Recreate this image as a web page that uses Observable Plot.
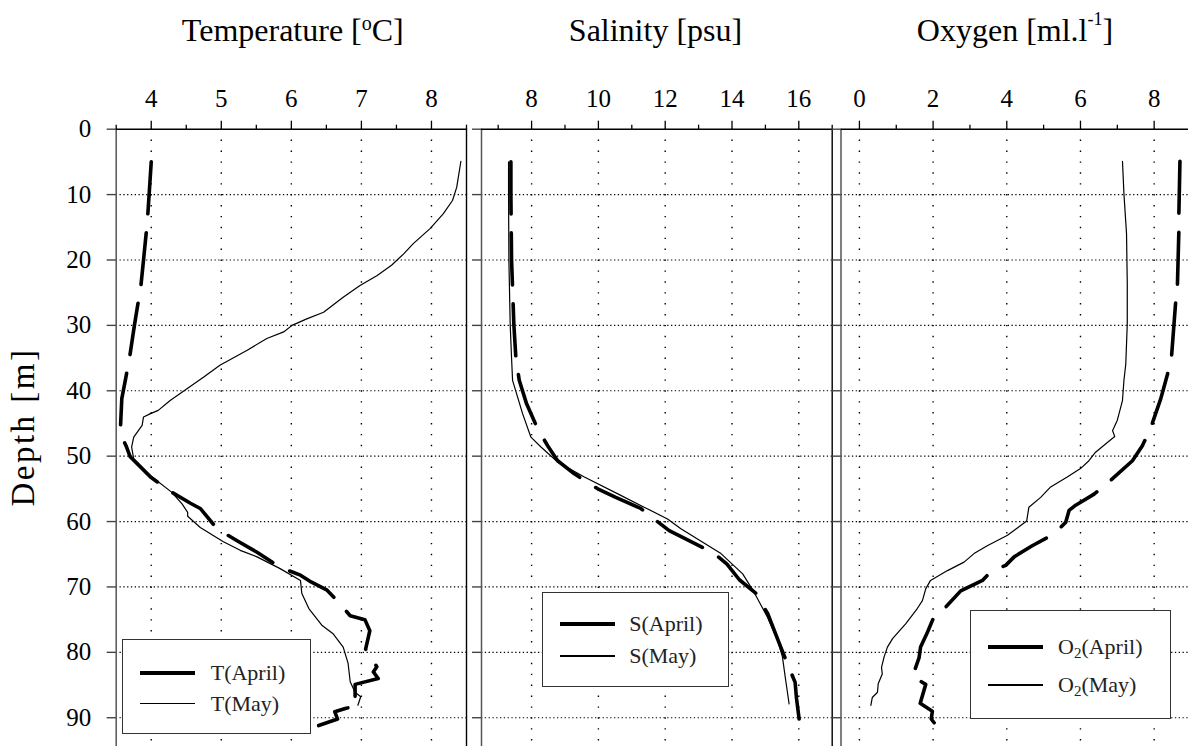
<!DOCTYPE html>
<html>
<head>
<meta charset="utf-8">
<script src="https://cdn.jsdelivr.net/npm/d3@7"></script>
<script src="https://cdn.jsdelivr.net/npm/@observablehq/plot@0.6"></script>
<style>
  html, body { margin: 0; padding: 0; background: white; }
  #wrap { position: relative; width: 1188px; height: 746px; overflow: hidden; background: white;
          font-family: "Liberation Serif", "Times New Roman", "DejaVu Serif", serif; color: black; }
  .panel { position: absolute; top: 0; }
  .title { position: absolute; top: 14px; font-size: 32px; line-height: 32px; text-align: center; white-space: nowrap;
           font-family: "Liberation Serif", "Times New Roman", serif; }
  .legend { position: absolute; border: 1.3px solid #333; background: white; box-sizing: border-box; }
  .legend .ln { position: absolute; background: black; }
  .legend .tx { position: absolute; font-size: 22px; line-height: 22px; white-space: nowrap; color: #222;
                font-family: "Liberation Serif", "Times New Roman", serif; }
  #ylab { position: absolute; left: 23px; top: 426.5px; width: 300px; font-size: 33px; line-height: 33px;
          letter-spacing: 2.5px; text-align: center; transform: translate(-50%, -50%) rotate(-90deg); white-space: nowrap;
          font-family: "Liberation Serif", "Times New Roman", serif; }
</style>
</head>
<body>
<div id="wrap"></div>
<script>
// ---------- tick labels / axis values ----------
const depthTicks = [0, 10, 20, 30, 40, 50, 60, 70, 80, 90];
const tempTicks = [4, 5, 6, 7, 8];
const tempMinor = [3.5, 4.5, 5.5, 6.5, 7.5, 8.5];
const salTicks = [8, 10, 12, 14, 16];
const salMinor = [7, 9, 11, 13, 15, 17];
const oxyTicks = [0, 2, 4, 6, 8];
const oxyMinor = [1, 3, 5, 7, 9];

// ---------- Temperature ----------
const tAprilDepth = [5.0, 10, 13.2, 15.7, 20, 24.2, 26.7, 30, 35, 38.4, 41.2, 45.8, 46.8, 48.4, 50.1, 53.2, 55.5, 57.2, 58.0, 61.1, 63.1, 64.7, 67.0, 68.2, 69.1, 70.5, 72.3, 74.4, 75.0, 76.7, 79.5, 82.2, 83.0, 84.0, 84.9, 87.2, 88.1, 88.6, 89.1, 90.2, 91.2];
const tAprilValue = [4.00, 3.97, 3.95, 3.93, 3.89, 3.85, 3.81, 3.76, 3.69, 3.63, 3.58, 3.56, 3.57, 3.64, 3.70, 3.99, 4.29, 4.56, 4.70, 4.94, 5.25, 5.51, 5.84, 6.13, 6.26, 6.51, 6.67, 6.84, 7.05, 7.12, 7.06, 7.22, 7.17, 7.24, 6.91, 6.91, 6.94, 6.77, 6.62, 6.66, 6.39];
const tMayDepth = [4.9, 8.9, 10.9, 12.9, 15.2, 17.5, 19.1, 20.8, 22.4, 23.9, 25.7, 28.0, 29.0, 30.0, 31.0, 32.0, 33.8, 36.1, 37.9, 39.7, 41.5, 43.0, 43.5, 44.0, 45.3, 47.1, 48.6, 50.4, 53.0, 55.5, 57.3, 58.6, 59.2, 60.9, 63.1, 64.4, 65.4, 67.2, 69.0, 71.0, 73.3, 75.9, 77.2, 79.2, 81.7, 84.5, 86.1, 86.8, 88.1];
const tMayValue = [8.42, 8.36, 8.30, 8.17, 7.98, 7.74, 7.60, 7.43, 7.22, 6.98, 6.74, 6.46, 6.22, 6.01, 5.89, 5.65, 5.37, 4.98, 4.75, 4.51, 4.27, 4.10, 3.99, 3.89, 3.87, 3.75, 3.72, 3.75, 3.99, 4.29, 4.44, 4.52, 4.52, 4.70, 5.03, 5.27, 5.51, 5.84, 6.13, 6.15, 6.25, 6.44, 6.60, 6.74, 6.81, 6.84, 6.91, 6.99, 6.95];

// ---------- Salinity ----------
const sAprilDepth = [5, 10, 20, 30, 35, 38.4, 42, 45.8, 48.4, 50.7, 52.7, 55.0, 56.3, 58.0, 61.4, 62.8, 64.9, 66.5, 68.9, 71.0, 74.1, 79.2, 82.0, 84.6, 87.0, 90.2];
const sAprilValue = [7.38, 7.38, 7.40, 7.47, 7.53, 7.63, 7.85, 8.18, 8.48, 8.78, 9.28, 9.98, 10.52, 11.27, 12.12, 12.67, 13.47, 13.85, 14.22, 14.72, 15.07, 15.46, 15.68, 15.89, 15.93, 16.01];
const sMayDepth = [5, 10, 20, 30, 35, 38.4, 43.5, 47.1, 48.6, 50.9, 53.2, 56.0, 57.8, 59.6, 61.1, 64.9, 68.0, 70.8, 74.5, 78.2, 80.7, 84, 87.9];
const sMayValue = [7.31, 7.31, 7.32, 7.36, 7.40, 7.43, 7.73, 7.98, 8.28, 8.78, 9.58, 10.67, 11.37, 12.07, 12.47, 13.67, 14.32, 14.66, 15.05, 15.37, 15.51, 15.60, 15.71];

// ---------- Oxygen ----------
const oAprilDepth = [4.9, 13.2, 15.7, 24.1, 26.7, 34.9, 37.5, 41.2, 45.8, 48.4, 50.7, 53.7, 55.8, 57.5, 58.3, 60.1, 61.9, 63.7, 65.4, 66.7, 67.7, 69.0, 70.6, 73.1, 74.6, 76.9, 79.2, 80.8, 83.7, 84.9, 87.8, 89.0, 90.2, 92.2, 91.6];
const oAprilValue = [8.70, 8.67, 8.67, 8.63, 8.58, 8.47, 8.36, 8.18, 7.90, 7.68, 7.41, 6.82, 6.37, 5.87, 5.69, 5.60, 5.28, 4.69, 4.20, 3.97, 3.56, 3.34, 2.75, 2.34, 2.02, 1.85, 1.66, 1.62, 1.44, 1.80, 1.65, 1.98, 1.95, 2.22, 2.37];
const oMayDepth = [4.9, 9.9, 16, 23.6, 29.8, 35.9, 38.4, 41.5, 44.5, 46.1, 47.0, 47.9, 49.4, 50.7, 51.9, 53.2, 54.7, 56.3, 57.8, 59.9, 62.1, 63.7, 64.9, 66.2, 67.5, 69.0, 70.3, 72.1, 73.3, 75.6, 77.9, 79.2, 80.7, 82.3, 83.3, 84.8, 86.1, 86.9, 88.1];
const oMayValue = [7.14, 7.18, 7.25, 7.27, 7.27, 7.23, 7.18, 7.14, 7.00, 6.87, 6.93, 6.73, 6.41, 6.23, 6.00, 5.64, 5.19, 4.92, 4.60, 4.54, 4.02, 3.47, 3.11, 2.84, 2.39, 1.93, 1.80, 1.71, 1.57, 1.26, 0.90, 0.76, 0.67, 0.60, 0.62, 0.51, 0.49, 0.35, 0.31];

const toRows = (depth, value) => depth.map((d, i) => ({d, v: value[i]}));
const FONT = '"Liberation Serif", "Times New Roman", serif';

function panel({xDomain, majors, minors, april, may, labels, left, width, marginLeft, marginRight, yTickSize}) {
  const svg = Plot.plot({
    width, height: 746,
    marginTop: 128.7, marginBottom: 0, marginLeft, marginRight,
    x: {domain: xDomain, label: null},
    y: {domain: [0, 94.4], reverse: true, label: null},
    style: {background: "transparent", fontFamily: FONT, fontSize: "25px", color: "black", overflow: "visible"},
    marks: [
      Plot.gridX({ticks: majors, stroke: "black", strokeOpacity: 1, strokeWidth: 1.4, strokeDasharray: "1.4,9.5"}),
      Plot.gridY({ticks: depthTicks.slice(1), stroke: "black", strokeOpacity: 1, strokeWidth: 1.2, strokeDasharray: "1.3,2.5"}),
      Plot.ruleX([xDomain[0]], {stroke: "#555", strokeWidth: 1.5}),
      Plot.ruleX([xDomain[1]], {stroke: "black", strokeWidth: 1.4}),
      Plot.ruleY([0], {stroke: "black", strokeWidth: 1.4}),
      Plot.axisX({anchor: "top", ticks: majors, tickSize: 9, tickPadding: 13.7, label: null, fontSize: 25,
                  fontFamily: FONT, strokeWidth: 1.3, tickFormat: d => String(d)}),
      Plot.axisX({anchor: "top", ticks: minors, tickSize: 5, tickFormat: () => "", label: null, strokeWidth: 1.3}),
      Plot.axisY({anchor: "left", ticks: depthTicks, tickSize: yTickSize, tickPadding: 16, label: null, fontSize: 25,
                  fontFamily: FONT, stroke: "#444", strokeWidth: 1.4, tickFormat: labels ? (d => String(d)) : (() => "")}),
      Plot.line(april, {x: "v", y: "d", stroke: "black", strokeWidth: 3.6, strokeDasharray: "52,19",
                        strokeLinecap: "round", strokeLinejoin: "round"}),
      Plot.line(may, {x: "v", y: "d", stroke: "black", strokeWidth: 1.2, strokeLinejoin: "round"})
    ]
  });
  svg.classList.add("panel");
  svg.style.left = left + "px";
  return svg;
}

const wrap = document.getElementById("wrap");

wrap.appendChild(panel({xDomain: [3.5, 8.5], majors: tempTicks, minors: tempMinor,
  april: toRows(tAprilDepth, tAprilValue), may: toRows(tMayDepth, tMayValue),
  labels: true, left: 0, width: 481, marginLeft: 115.7, marginRight: 15, yTickSize: 9}));
wrap.appendChild(panel({xDomain: [6.5, 17], majors: salTicks, minors: salMinor,
  april: toRows(sAprilDepth, sAprilValue), may: toRows(sMayDepth, sMayValue),
  labels: false, left: 466, width: 370, marginLeft: 15, marginRight: 4.3, yTickSize: 9}));
wrap.appendChild(panel({xDomain: [-0.5, 9], majors: oxyTicks, minors: oxyMinor,
  april: toRows(oAprilDepth, oAprilValue), may: toRows(oMayDepth, oMayValue),
  labels: false, left: 826, width: 370, marginLeft: 14.5, marginRight: 5.5, yTickSize: 8.5}));

// ---------- titles ----------
function addTitle(html, cx) {
  const d = document.createElement("div");
  d.className = "title";
  d.innerHTML = html;
  d.style.left = (cx - 200) + "px";
  d.style.width = "400px";
  wrap.appendChild(d);
}
addTitle('Temperature [<span style="font-size:20px;vertical-align:11px;line-height:0">o</span>C]', 292.8);
addTitle('Salinity [psu]', 655.5);
addTitle('Oxygen [ml.l<span style="font-size:18px;vertical-align:16px;line-height:0">-1</span>]', 1015);

const ylab = document.createElement("div");
ylab.id = "ylab";
ylab.textContent = "Depth [m]";
wrap.appendChild(ylab);

// ---------- legends ----------
function addLegend({left, top, width, height, lineX, lineLen, rows, textX}) {
  const box = document.createElement("div");
  box.className = "legend";
  Object.assign(box.style, {left: left + "px", top: top + "px", width: width + "px", height: height + "px"});
  rows.forEach(r => {
    const ln = document.createElement("div");
    ln.className = "ln";
    Object.assign(ln.style, {left: lineX + "px", width: lineLen + "px", top: (r.y - r.w / 2) + "px", height: r.w + "px"});
    box.appendChild(ln);
    const tx = document.createElement("div");
    tx.className = "tx";
    tx.innerHTML = r.html;
    Object.assign(tx.style, {left: textX + "px", top: (r.y - 11.1) + "px"});
    box.appendChild(tx);
  });
  wrap.appendChild(box);
}
const sub2 = '<span style="font-size:15px;vertical-align:-4px;line-height:0">2</span>';
addLegend({left: 121.7, top: 639.3, width: 189, height: 95, lineX: 17, lineLen: 55, textX: 88,
  rows: [{y: 32.4, w: 4, html: "T(April)"}, {y: 63.4, w: 1.3, html: "T(May)"}]});
addLegend({left: 541.7, top: 591.7, width: 187, height: 95, lineX: 17, lineLen: 55, textX: 86.5,
  rows: [{y: 31.6, w: 4, html: "S(April)"}, {y: 63.3, w: 1.3, html: "S(May)"}]});
addLegend({left: 970, top: 610, width: 201, height: 109.3, lineX: 16.5, lineLen: 55, textX: 87,
  rows: [{y: 35.7, w: 4, html: "O" + sub2 + "(April)"}, {y: 74, w: 1.3, html: "O" + sub2 + "(May)"}]});
</script>
</body>
</html>
